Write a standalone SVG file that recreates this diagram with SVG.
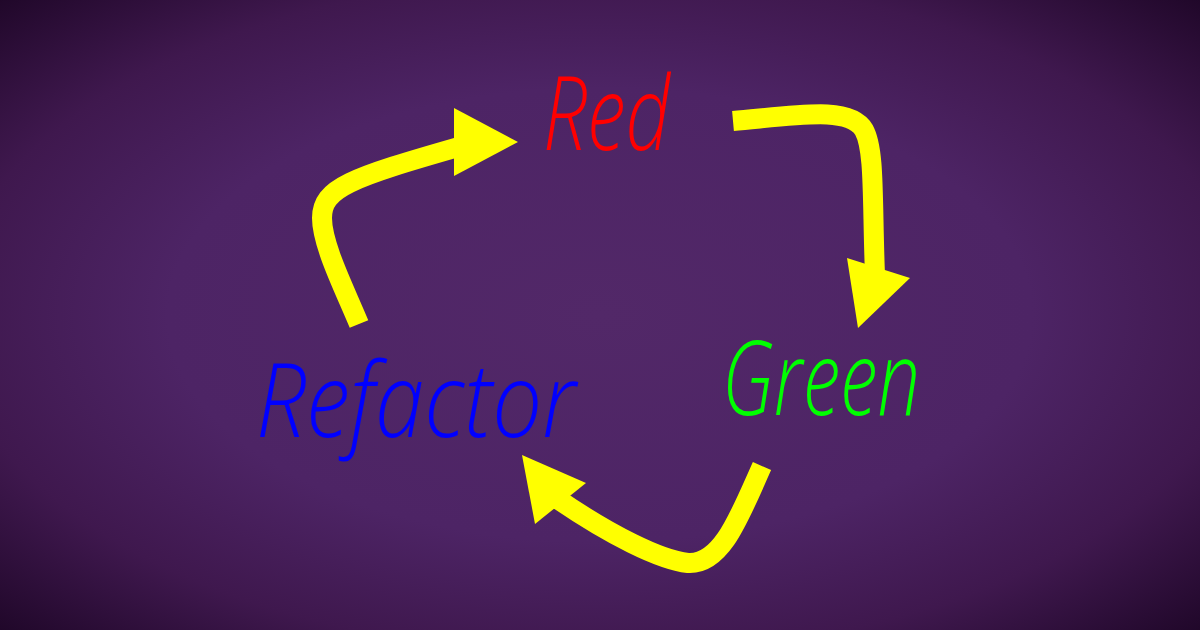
<svg xmlns="http://www.w3.org/2000/svg" width="1200" height="630" viewBox="0 0 1200 630">
<defs>
<radialGradient id="bg" cx="50%" cy="50%" r="72%" fx="50%" fy="50%">
<stop offset="0" stop-color="#522868"/>
<stop offset="0.5" stop-color="#4d2465"/>
<stop offset="0.75" stop-color="#3f184e"/>
<stop offset="1" stop-color="#1e0627"/>
</radialGradient>
<style>
.lbl{font-family:"Open Sans","Liberation Sans",sans-serif;font-style:italic;font-weight:300;font-size:104px}
.shaft{fill:none;stroke:#ffff00;stroke-width:20;stroke-linecap:butt}
.head{fill:#ffff00}
</style>
</defs>
<rect width="1200" height="630" fill="url(#bg)"/>
<g id="connectors">
<g id="refactor-to-red">
<path class="shaft" d="M 359 324 C 345 290 322 245 322 218 C 322 188 350 178 462 146"/>
<polygon class="head" points="454,108 518,142 454,176"/>
</g>
<g id="red-to-green">
<path class="shaft" d="M 733 121 C 800 115 850 106 864 130 C 875 150 872 200 875 275"/>
<polygon class="head" points="847,258 910,278 858,328"/>
</g>
<g id="green-to-refactor">
<path class="shaft" d="M 762 466 C 740 515 722 565 688 563 C 660 560 610 535 556 498"/>
<polygon class="head" points="522,455 586,483 535,524"/>
</g>
</g>
<g id="node-red">
<text class="lbl" x="543" y="150" fill="#ff0000" textLength="127" lengthAdjust="spacingAndGlyphs">Red</text>
</g>
<g id="node-green">
<text class="lbl" x="722" y="415" fill="#00ff00" textLength="198" lengthAdjust="spacingAndGlyphs">Green</text>
</g>
<g id="node-refactor">
<text class="lbl" x="256" y="437" fill="#0000ff" textLength="320" lengthAdjust="spacingAndGlyphs">Refactor</text>
</g>
</svg>
